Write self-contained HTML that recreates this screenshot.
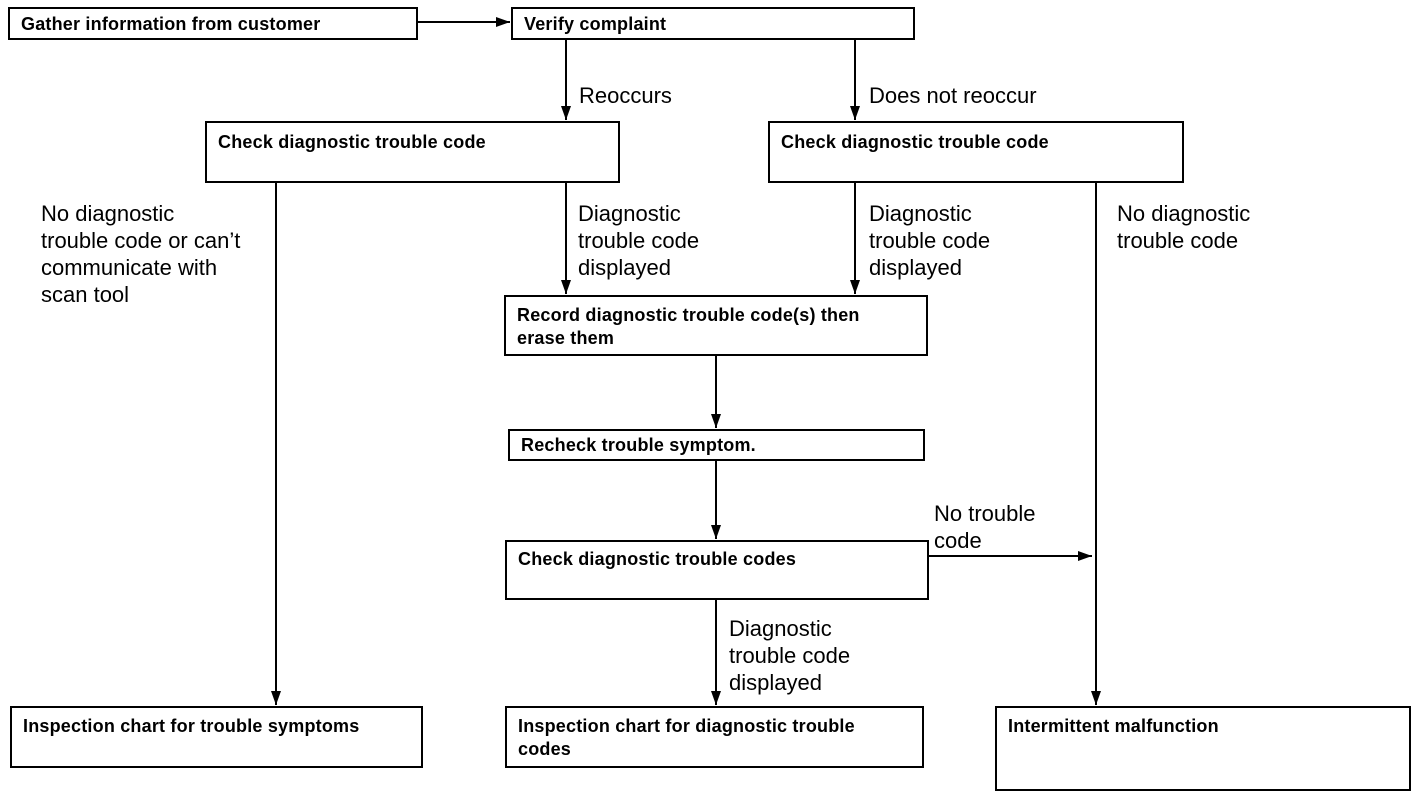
<!DOCTYPE html>
<html><head><style>
body{margin:0;background:#fff;width:1424px;height:798px;overflow:hidden;position:relative;font-family:"Liberation Sans",Arial,sans-serif}
.b{position:absolute;border:2px solid #000;box-sizing:border-box;font-weight:bold;font-size:18px;line-height:23px;padding:3px 11px;color:#000;letter-spacing:0.2px}
.t{position:absolute;font-size:22px;line-height:27px;color:#000}
svg{position:absolute;left:0;top:0}
</style></head><body>
<svg width="1424" height="798">
<defs><marker id="a" markerWidth="14" markerHeight="10" refX="14" refY="5" orient="auto" markerUnits="userSpaceOnUse"><path d="M0,0L14,5L0,10z"/></marker></defs>
<g stroke="#000" stroke-width="2" fill="none" marker-end="url(#a)">
<line x1="417" y1="22" x2="510" y2="22"/>
<line x1="566" y1="39" x2="566" y2="120"/>
<line x1="855" y1="39" x2="855" y2="120"/>
<line x1="566" y1="182" x2="566" y2="294"/>
<line x1="855" y1="182" x2="855" y2="294"/>
<line x1="716" y1="355" x2="716" y2="428"/>
<line x1="716" y1="460" x2="716" y2="539"/>
<line x1="928" y1="556" x2="1092" y2="556"/>
<line x1="276" y1="182" x2="276" y2="705"/>
<line x1="716" y1="599" x2="716" y2="705"/>
<line x1="1096" y1="182" x2="1096" y2="705"/>
</g></svg>
<div class="b" style="left:8px;top:7px;width:410px;height:33px;padding-top:4px">Gather information from customer</div>
<div class="b" style="left:511px;top:7px;width:404px;height:33px;padding-top:4px">Verify complaint</div>
<div class="b" style="left:205px;top:121px;width:415px;height:62px;padding-top:8px">Check diagnostic trouble code</div>
<div class="b" style="left:768px;top:121px;width:416px;height:62px;padding-top:8px">Check diagnostic trouble code</div>
<div class="b" style="left:504px;top:295px;width:424px;height:61px;padding-top:7px">Record diagnostic trouble code(s) then<br>erase them</div>
<div class="b" style="left:508px;top:429px;width:417px;height:32px;padding-top:3px">Recheck trouble symptom.</div>
<div class="b" style="left:505px;top:540px;width:424px;height:60px;padding-top:6px">Check diagnostic trouble codes</div>
<div class="b" style="left:10px;top:706px;width:413px;height:62px;padding-top:7px">Inspection chart for trouble symptoms</div>
<div class="b" style="left:505px;top:706px;width:419px;height:62px;padding-top:7px">Inspection chart for diagnostic trouble<br>codes</div>
<div class="b" style="left:995px;top:706px;width:416px;height:85px;padding-top:7px">Intermittent malfunction</div>
<div class="t" style="left:579px;top:82px">Reoccurs</div>
<div class="t" style="left:869px;top:82px">Does not reoccur</div>
<div class="t" style="left:41px;top:200px">No diagnostic<br>trouble code or can’t<br>communicate with<br>scan tool</div>
<div class="t" style="left:578px;top:200px">Diagnostic<br>trouble code<br>displayed</div>
<div class="t" style="left:869px;top:200px">Diagnostic<br>trouble code<br>displayed</div>
<div class="t" style="left:1117px;top:200px">No diagnostic<br>trouble code</div>
<div class="t" style="left:934px;top:500px">No trouble<br>code</div>
<div class="t" style="left:729px;top:615px">Diagnostic<br>trouble code<br>displayed</div>
</body></html>
